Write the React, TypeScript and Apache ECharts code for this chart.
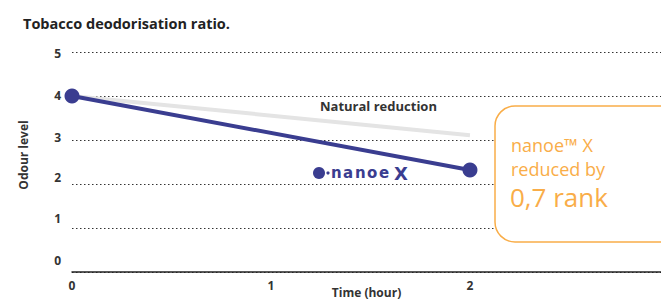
import React, { useEffect, useRef } from "react";
import * as echarts from "echarts";

const yTicks = [0, 1, 2, 3, 4, 5];
const xTicks = [0, 1, 2];
const nanoeSeries: [number, number][] = [
  [0, 4],
  [2, 2.32],
];
const naturalSeries: [number, number][] = [
  [0, 4],
  [2, 3.11],
];
const title = "Tobacco deodorisation ratio.";
const yName = "Odour level";
const xName = "Time (hour)";
const naturalLabel = "Natural reduction";
const boxLines = ["nanoe™ X", "reduced by", "0,7 rank"];
const logoLetters = ["n", "a", "n", "o", "e"];

const FONT = "'Open Sans', 'Noto Sans', sans-serif";
const BLUE = "#3a3d90";
const ORANGE = "#f9ad48";

// label vertical offsets (px upward) per y value
const yOff: Record<number, number> = { 0: 12, 1: 10, 2: 7, 3: 3, 4: 1, 5: -1 };

export default function App() {
  const ref = useRef<HTMLDivElement>(null);
  useEffect(() => {
    document.body.style.margin = "0";
    const chart = echarts.init(ref.current!, null, { renderer: "svg" });
    const rich: Record<string, any> = {};
    yTicks.forEach((v) => {
      const o = yOff[v];
      rich["a" + v] = {
        fontFamily: FONT,
        fontWeight: "bold",
        fontSize: 12,
        color: "#333",
        padding: o >= 0 ? [0, 0, 2 * o, 0] : [-2 * o, 0, 0, 0],
      };
    });
    const logo: any[] = logoLetters.map((ch, i) => ({
      type: "text",
      x: 331 + i * 12,
      y: 173,
      style: {
        text: ch,
        fontFamily: "'DejaVu Sans', sans-serif",
        fontWeight: "bold",
        fontSize: 15,
        fill: BLUE,
        verticalAlign: "middle",
      },
      z: 11,
    }));
    logo.push({
      type: "text",
      x: 394,
      y: 173,
      style: {
        text: "X",
        fontFamily: "'DejaVu Sans', sans-serif",
        fontWeight: "bold",
        fontSize: 18,
        fill: BLUE,
        verticalAlign: "middle",
      },
      z: 11,
    });
    chart.setOption({
      animation: false,
      grid: {
        left: 72,
        right: 0,
        top: 52,
        bottom: 33,
        containLabel: false,
        outerBoundsMode: "none",
      },
      title: {
        text: title,
        left: 18,
        top: 11,
        textStyle: { fontFamily: FONT, fontWeight: "bold", fontSize: 14.5, color: "#222" },
      },
      xAxis: {
        type: "value",
        min: 0,
        max: 2.96,
        interval: 1,
        name: xName,
        nameLocation: "middle",
        nameGap: 14,
        nameMoveOverlap: false,
        nameTextStyle: { fontFamily: FONT, fontWeight: "bold", fontSize: 12, color: "#333" },
        axisLine: { show: true, lineStyle: { color: "#222", width: 1.5 } },
        axisTick: { show: false },
        splitLine: { show: false },
        axisLabel: {
          showMaxLabel: false,
          margin: 7,
          fontFamily: FONT,
          fontWeight: "bold",
          fontSize: 12,
          color: "#333",
          formatter: (v: number) => (xTicks.includes(v) ? String(v) : ""),
        },
      },
      yAxis: {
        type: "value",
        min: 0,
        max: 5,
        interval: 1,
        name: yName,
        nameLocation: "middle",
        nameGap: 43,
        nameMoveOverlap: false,
        nameRotate: 90,
        nameTextStyle: {
          fontFamily: FONT,
          fontWeight: "bold",
          fontSize: 12,
          color: "#333",
          padding: [0, 0, 0, 14],
        },
        axisLine: { show: false },
        axisTick: { show: false },
        splitLine: { show: true, lineStyle: { color: "#333", width: 1, type: [1.5, 2.5] } },
        axisLabel: {
          margin: 11,
          formatter: (v: number) => `{a${v}|${v}}`,
          rich,
        },
      },
      series: [
        {
          type: "line",
          data: naturalSeries,
          symbol: "none",
          lineStyle: { color: "#e4e4e4", width: 4 },
          z: 2,
        },
        {
          type: "line",
          data: nanoeSeries,
          symbol: "circle",
          symbolSize: 15,
          itemStyle: { color: BLUE },
          lineStyle: { color: BLUE, width: 4 },
          z: 3,
        },
      ],
      graphic: [
        {
          type: "text",
          left: 320,
          top: 99,
          style: {
            text: naturalLabel,
            fontFamily: FONT,
            fontWeight: "bold",
            fontSize: 13,
            fill: "#333",
          },
        },
        {
          type: "rect",
          shape: { x: 495, y: 106, width: 190, height: 136, r: 20 },
          style: { fill: "#fff", stroke: ORANGE, lineWidth: 1.5 },
          z: 10,
        },
        {
          type: "text",
          x: 511,
          y: 136,
          style: { text: boxLines[0], fontFamily: FONT, fontSize: 18, fill: ORANGE },
          z: 11,
        },
        {
          type: "text",
          x: 511,
          y: 160,
          style: { text: boxLines[1], fontFamily: FONT, fontSize: 18, fill: ORANGE },
          z: 11,
        },
        {
          type: "text",
          x: 510,
          y: 184,
          style: { text: boxLines[2], fontFamily: FONT, fontSize: 26, fill: ORANGE },
          z: 11,
        },
        {
          type: "circle",
          shape: { cx: 319, cy: 173, r: 6 },
          style: { fill: BLUE },
          z: 11,
        },
        {
          type: "circle",
          shape: { cx: 328, cy: 173, r: 1.6 },
          style: { fill: BLUE },
          z: 11,
        },
        ...logo,
      ],
    });
    return () => chart.dispose();
  }, []);
  return <div ref={ref} style={{ width: 661, height: 305 }} />;
}
